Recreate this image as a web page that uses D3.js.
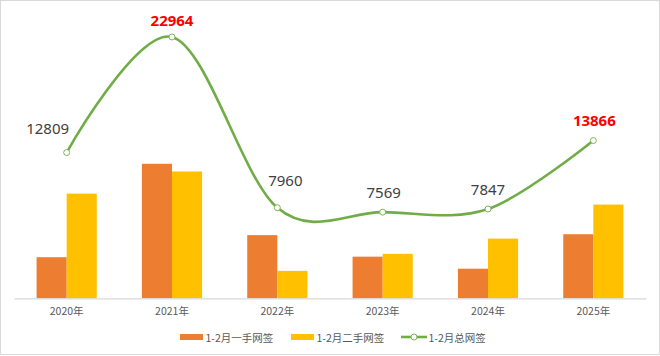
<!DOCTYPE html>
<html><head><meta charset="utf-8">
<script src="https://cdn.jsdelivr.net/npm/d3@7/dist/d3.min.js"></script>
<style>
html,body{margin:0;padding:0;background:#fff;}
svg{display:block;}
</style></head>
<body>
<svg id="chart" width="660" height="356"></svg>
<script>
const years = ["2020年","2021年","2022年","2023年","2024年","2025年"];
const firstHand = [3610, 11820, 5550, 3660, 2600, 5630];
const secondHand = [9199, 11144, 2410, 3909, 5247, 8236];
const total = [12809, 22964, 7960, 7569, 7847, 13866];
const highlight = [false, true, false, false, false, true];
const seriesNames = ["1-2月一手网签","1-2月二手网签","1-2月总网签"];

const colors = {orange:"#ED7D31", yellow:"#FFC000", green:"#70AD47"};
// label offsets (dx, dy) relative to point, for manually placed Excel labels
const labelOffsets = [[-19,-25],[0,-17],[8,-28],[1,-20],[0,-20],[1,-21]];

const W = 660, H = 356;
const svg = d3.select("#chart");
svg.append("rect").attr("x",0.5).attr("y",0.5).attr("width",W-1).attr("height",H-2)
  .attr("fill","#fff").attr("stroke","#d9d9d9");

const plot = {left:14, right:646, top:13.8, bottom:298.3};
const x = d3.scaleBand().domain(years).range([plot.left, plot.right]).padding(0);
const y = d3.scaleLinear().domain([0, 25000]).range([plot.bottom, plot.top]);
const groupW = x.bandwidth()/1.75;
const x1 = d3.scaleBand().domain([0,1]).range([-groupW/2, groupW/2]).padding(0);

const g = svg.append("g");
const seriesVals = [firstHand, secondHand];
const seriesColors = [colors.orange, colors.yellow];
seriesVals.forEach((vals, si) => {
  g.selectAll(null).data(vals).enter().append("rect")
    .attr("x",(d,i)=> x(years[i]) + x.bandwidth()/2 + x1(si))
    .attr("y", d=> y(d))
    .attr("width", x1.bandwidth())
    .attr("height", d=> y(0)-y(d))
    .attr("fill", seriesColors[si]);
});

// axis
const axis = d3.axisBottom(x).tickSize(0).tickPadding(9);
const ax = svg.append("g").attr("transform",`translate(0,${plot.bottom})`).call(axis);
ax.select(".domain").attr("stroke","#d9d9d9").attr("stroke-width",1.2);
ax.selectAll("text").attr("font-family","'Noto Sans CJK SC','Noto Sans',sans-serif")
  .attr("font-size","10.5px").attr("fill","#595959");

// line
const pts = total.map((v,i)=>[x(years[i])+x.bandwidth()/2, y(v)]);
const line = d3.line().curve(d3.curveCardinal.tension(0));
svg.append("path").attr("d", line(pts)).attr("fill","none")
  .attr("stroke", colors.green).attr("stroke-width",2.6).attr("stroke-linecap","round");
svg.selectAll(null).data(pts).enter().append("circle")
  .attr("cx",d=>d[0]).attr("cy",d=>d[1]).attr("r",3)
  .attr("fill","#fff").attr("stroke",colors.green).attr("stroke-width",0.9);

// labels
svg.selectAll(null).data(total).enter().append("text")
  .attr("x",(d,i)=>pts[i][0]+labelOffsets[i][0])
  .attr("y",(d,i)=>pts[i][1]+labelOffsets[i][1])
  .attr("text-anchor","middle").attr("dominant-baseline","central")
  .attr("font-family","'Noto Sans','Open Sans',sans-serif")
  .attr("font-size","15px")
  .attr("font-weight",(d,i)=>highlight[i]?"bold":"normal")
  .attr("fill",(d,i)=>highlight[i]?"#FF0000":"#404040")
  .text(d=>d);

// legend
const legY = 337;
const legItems = [
  {name:seriesNames[0], type:"bar", color:colors.orange, x:180},
  {name:seriesNames[1], type:"bar", color:colors.yellow, x:291},
  {name:seriesNames[2], type:"line", color:colors.green, x:401}
];
const leg = svg.append("g");
legItems.forEach(it=>{
  const gi = leg.append("g").attr("transform",`translate(${it.x},${legY})`);
  if(it.type==="bar"){
    gi.append("rect").attr("x",0).attr("y",-3).attr("width",23).attr("height",6).attr("fill",it.color);
  } else {
    gi.append("line").attr("x1",0).attr("x2",26).attr("y1",0).attr("y2",0)
      .attr("stroke",it.color).attr("stroke-width",2.6);
    gi.append("circle").attr("cx",13).attr("cy",0).attr("r",3)
      .attr("fill","#fff").attr("stroke",it.color).attr("stroke-width",0.9);
  }
  gi.append("text").attr("x", it.type==="bar"?25.5:27.5).attr("y",0)
    .attr("dominant-baseline","central")
    .attr("font-family","'Noto Sans CJK SC','Noto Sans',sans-serif")
    .attr("font-size","10.5px").attr("fill","#595959").text(it.name);
});
</script>
</body></html>
